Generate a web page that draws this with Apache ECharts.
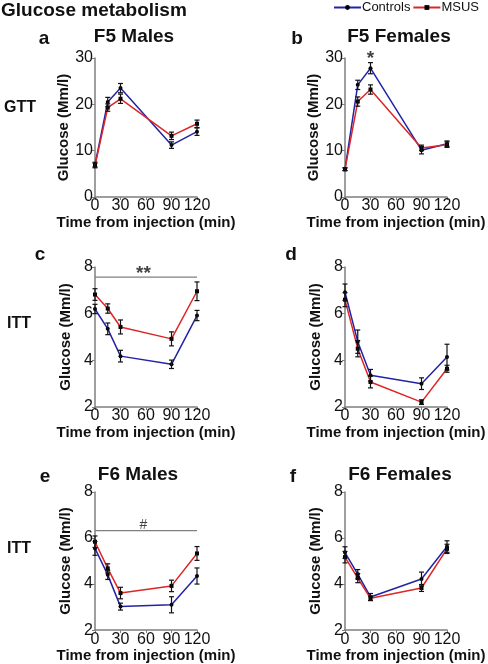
<!DOCTYPE html>
<html><head><meta charset="utf-8">
<script src="https://cdn.jsdelivr.net/npm/echarts@6/dist/echarts.min.js"></script>
<style>html,body{margin:0;padding:0;background:#fff}#c{width:488px;height:664px}</style>
</head><body><div id="c"></div>
<script>
const times = [0, 15, 30, 90, 120];
const xTicks = [0, 30, 60, 90, 120];
const gttTicks = [0, 10, 20, 30];
const ittTicks = [2, 4, 6, 8];

// panel a: F5 Males GTT
const aCtrl = [7.0, 20.5, 23.5, 11.2, 14.1];
const aCtrlErr = [0.5, 1.0, 1.0, 0.7, 0.8];
const aMsus = [6.8, 19.3, 21.2, 13.2, 15.8];
const aMsusErr = [0.5, 0.8, 1.0, 0.8, 0.8];
// panel b: F5 Females GTT
const bCtrl = [6.0, 24.2, 27.8, 10.1, 11.5];
const bCtrlErr = [0.3, 1.0, 1.2, 0.8, 0.6];
const bMsus = [6.0, 20.6, 23.2, 10.6, 11.3];
const bMsusErr = [0.3, 1.0, 1.0, 0.6, 0.6];
// panel c: F5 Males ITT
const cCtrl = [6.2, 5.35, 4.18, 3.83, 5.92];
const cCtrlErr = [0.2, 0.25, 0.25, 0.18, 0.22];
const cMsus = [6.82, 6.22, 5.43, 4.92, 6.96];
const cMsusErr = [0.25, 0.2, 0.3, 0.3, 0.4];
// panel d: F5 Females ITT
const dCtrl = [6.92, 4.8, 3.36, 3.0, 4.14];
const dCtrlErr = [0.35, 0.5, 0.25, 0.25, 0.55];
const dMsus = [6.6, 4.5, 3.07, 2.21, 3.64];
const dMsusErr = [0.3, 0.35, 0.25, 0.1, 0.15];
// panel e: F6 Males ITT
const eCtrl = [5.55, 4.4, 3.02, 3.1, 4.35];
const eCtrlErr = [0.3, 0.2, 0.15, 0.35, 0.35];
const eMsus = [5.84, 4.68, 3.61, 3.92, 5.33];
const eMsusErr = [0.25, 0.2, 0.25, 0.25, 0.3];
// panel f: F6 Females ITT
const fCtrl = [5.37, 4.43, 3.44, 4.22, 5.63];
const fCtrlErr = [0.25, 0.2, 0.15, 0.3, 0.25];
const fMsus = [5.17, 4.26, 3.38, 3.83, 5.53];
const fMsusErr = [0.25, 0.2, 0.1, 0.15, 0.2];

// significance annotations: mark [x, y, label], line at y
const sigB = {mark: [30, 29.9, '*']};
const sigC = {line: 7.57, mark: [57, 7.72, '**']};
const sigE = {line: 6.32, mark: [57, 6.56, '#']};

const FONT = 'Arial, "Liberation Sans", sans-serif';
const BLUE = '#2323a6';
const RED = '#dd2626';
const GRAY = '#7f7f7f';

const panels = [
  {left: 95, top: 58, height: 139, ctrl: aCtrl, ce: aCtrlErr, msus: aMsus, me: aMsusErr, yt: gttTicks},
  {left: 345, top: 58, height: 139, ctrl: bCtrl, ce: bCtrlErr, msus: bMsus, me: bMsusErr, yt: gttTicks, sig: sigB},
  {left: 95, top: 267, height: 140, ctrl: cCtrl, ce: cCtrlErr, msus: cMsus, me: cMsusErr, yt: ittTicks, sig: sigC},
  {left: 345, top: 267, height: 140, ctrl: dCtrl, ce: dCtrlErr, msus: dMsus, me: dMsusErr, yt: ittTicks},
  {left: 95, top: 492, height: 139, ctrl: eCtrl, ce: eCtrlErr, msus: eMsus, me: eMsusErr, yt: ittTicks, sig: sigE},
  {left: 345, top: 492, height: 139, ctrl: fCtrl, ce: fCtrlErr, msus: fMsus, me: fMsusErr, yt: ittTicks}
];

const grid = [], xAxis = [], yAxis = [], series = [];
function errRender(params, api) {
  const x = api.value(0), y = api.value(1), e = api.value(2);
  const lo = api.coord([x, y - e]), hi = api.coord([x, y + e]);
  const w = 2.5;
  const st = {stroke: '#111', lineWidth: 1.2};
  return {type: 'group', children: [
    {type: 'line', shape: {x1: lo[0], y1: lo[1], x2: hi[0], y2: hi[1]}, style: st},
    {type: 'line', shape: {x1: lo[0] - w, y1: lo[1], x2: lo[0] + w, y2: lo[1]}, style: st},
    {type: 'line', shape: {x1: hi[0] - w, y1: hi[1], x2: hi[0] + w, y2: hi[1]}, style: st}
  ]};
}
panels.forEach((p, i) => {
  grid.push({left: p.left, top: p.top, width: 102, height: p.height, containLabel: false});
  xAxis.push({
    type: 'value', gridIndex: i, min: xTicks[0], max: xTicks[xTicks.length - 1], interval: 30,
    name: 'Time from injection (min)', nameLocation: 'middle', nameGap: 16,
    nameTextStyle: {fontFamily: FONT, fontWeight: 'bold', fontSize: 15, color: '#111'},
    axisLine: {lineStyle: {color: GRAY, width: 1.5}},
    axisTick: {show: true, length: 3, lineStyle: {color: GRAY}},
    axisLabel: {fontFamily: FONT, fontSize: 16, color: '#111', margin: 1},
    splitLine: {show: false}
  });
  yAxis.push({
    type: 'value', gridIndex: i, min: p.yt[0], max: p.yt[p.yt.length - 1],
    interval: p.yt[1] - p.yt[0],
    name: 'Glucose (Mm/l)', nameLocation: 'middle', nameGap: 22,
    nameTextStyle: {fontFamily: FONT, fontWeight: 'bold', fontSize: 15, color: '#111'},
    axisLine: {show: true, lineStyle: {color: GRAY, width: 1.5}},
    axisTick: {show: true, length: 3, lineStyle: {color: GRAY}},
    axisLabel: {fontFamily: FONT, fontSize: 16, color: '#111', margin: 2},
    splitLine: {show: false}
  });
  series.push({
    type: 'line', name: 'Controls', xAxisIndex: i, yAxisIndex: i,
    data: times.map((t, k) => [t, p.ctrl[k]]),
    symbol: 'circle', symbolSize: 4, itemStyle: {color: '#000'},
    lineStyle: {color: BLUE, width: 1.5}, z: 3
  });
  series.push({
    type: 'line', name: 'MSUS', xAxisIndex: i, yAxisIndex: i,
    data: times.map((t, k) => [t, p.msus[k]]),
    symbol: 'rect', symbolSize: 4, itemStyle: {color: '#000'},
    lineStyle: {color: RED, width: 1.5}, z: 3
  });
  series.push({
    type: 'custom', xAxisIndex: i, yAxisIndex: i, renderItem: errRender, z: 4,
    data: times.map((t, k) => [t, p.ctrl[k], p.ce[k]]).concat(times.map((t, k) => [t, p.msus[k], p.me[k]]))
  });
  if (p.sig) {
    if (p.sig.line !== undefined) {
      series.push({
        type: 'line', xAxisIndex: i, yAxisIndex: i, symbol: 'none', silent: true,
        data: [[xTicks[0], p.sig.line], [xTicks[xTicks.length - 1], p.sig.line]],
        lineStyle: {color: GRAY, width: 1.2}, z: 2
      });
    }
    series.push({
      type: 'scatter', xAxisIndex: i, yAxisIndex: i, symbolSize: 0, clip: false, silent: true,
      data: [[p.sig.mark[0], p.sig.mark[1]]],
      label: {show: true, position: 'inside', formatter: p.sig.mark[2], fontFamily: FONT,
        fontWeight: p.sig.mark[2] === '#' ? 'normal' : 'bold', fontSize: p.sig.mark[2] === '#' ? 14 : 19, color: '#111'}
    });
  }
});

function txt(x, y, s, size, align) {
  return {type: 'text', x: x, y: y, style: {text: s, fontFamily: FONT, fontWeight: 'bold',
    fontSize: size, fill: '#111', textAlign: align || 'left', textVerticalAlign: 'middle'}};
}

const chart = echarts.init(document.getElementById('c'), null, {renderer: 'canvas'});
chart.setOption({
  animation: false,
  backgroundColor: '#fff',
  grid, xAxis, yAxis, series,
  legend: {
    data: ['Controls', 'MSUS'], orient: 'horizontal', left: 333, top: 0, width: 200,
    itemWidth: 27, itemHeight: 6, itemGap: 2, padding: [1, 0, 0, 0],
    textStyle: {fontFamily: FONT, fontSize: 13, color: '#111', padding: [0, 0, 0, -4]}
  },
  graphic: [
    txt(1, 11, 'Glucose metabolism', 19),
    txt(44, 39, 'a', 19, 'center'), txt(134, 37, 'F5 Males', 19, 'center'),
    txt(297, 39, 'b', 19, 'center'), txt(399, 37, 'F5 Females', 19, 'center'),
    txt(40, 255, 'c', 19, 'center'), txt(291, 255, 'd', 19, 'center'),
    txt(45, 477, 'e', 19, 'center'), txt(138, 475, 'F6 Males', 19, 'center'),
    txt(293, 477, 'f', 19, 'center'), txt(400, 475, 'F6 Females', 19, 'center'),
    txt(4, 108, 'GTT', 16), txt(7, 324, 'ITT', 16), txt(7, 549, 'ITT', 16)
  ]
});
</script></body></html>
